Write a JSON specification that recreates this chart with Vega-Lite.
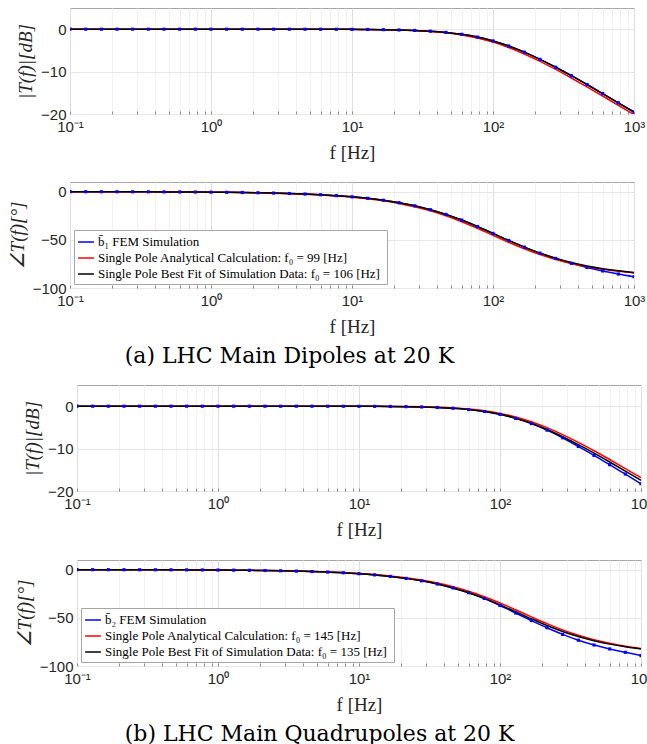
{
"$schema": "https://vega.github.io/schema/vega-lite/v6.json",
"background": "white",
"padding": {"left": 7, "top": 7, "right": 0, "bottom": 0},
"config": {
  "view": {"stroke": "#a6a6a6", "strokeWidth": 1},
  "axis": {"labelFont": "Liberation Sans", "labelFontSize": 15, "labelColor": "#262626", "titleFont": "Liberation Serif", "titleFontWeight": "normal", "titleColor": "#262626", "domain": false, "ticks": false, "gridColor": "#e6e6e6", "gridWidth": 1, "labelPadding": 4},
  "axisY": {"titleFontSize": 19, "titleFontStyle": "italic", "titlePadding": 5},
  "axisX": {"titleFontSize": 19, "titlePadding": 9, "labelOverlap": false, "labelFlush": false, "labelPadding": 8, "ticks": true, "tickSize": -3, "tickColor": "#8c8c8c"},
  "legend": {"title": null, "orient": "bottom-left", "offset": 4, "symbolType": "stroke", "symbolSize": 250, "symbolStrokeWidth": 1.5, "labelFont": "Liberation Serif", "labelFontSize": 13, "labelColor": "#000000", "labelLimit": 600, "labelOffset": 3, "rowPadding": -1, "padding": 3, "strokeColor": "#a6a6a6", "fillColor": "#ffffff"},
  "title": {"font": "DejaVu Serif", "fontSize": 22, "fontWeight": "normal", "color": "#000000", "orient": "bottom", "anchor": "start", "frame": "bounds", "offset": 9}
},
"data": {"values": [
{"g":"a","s":"FEM","f":0.1,"m":0,"p":-0.05},{"g":"a","s":"FEM","f":0.1292,"m":0,"p":-0.07},{"g":"a","s":"FEM","f":0.1668,"m":0,"p":-0.09},{"g":"a","s":"FEM","f":0.2154,"m":0,"p":-0.12},{"g":"a","s":"FEM","f":0.2783,"m":0,"p":-0.15},{"g":"a","s":"FEM","f":0.3594,"m":0,"p":-0.19},{"g":"a","s":"FEM","f":0.4642,"m":0,"p":-0.25},{"g":"a","s":"FEM","f":0.5995,"m":0,"p":-0.32},{"g":"a","s":"FEM","f":0.7743,"m":0,"p":-0.42},{"g":"a","s":"FEM","f":1,"m":-0.0004,"p":-0.54},{"g":"a","s":"FEM","f":1.2915,"m":-0.0006,"p":-0.7},{"g":"a","s":"FEM","f":1.6681,"m":-0.0011,"p":-0.9},{"g":"a","s":"FEM","f":2.1544,"m":-0.0018,"p":-1.16},{"g":"a","s":"FEM","f":2.7826,"m":-0.003,"p":-1.5},{"g":"a","s":"FEM","f":3.5938,"m":-0.005,"p":-1.94},{"g":"a","s":"FEM","f":4.6416,"m":-0.0083,"p":-2.51},{"g":"a","s":"FEM","f":5.9948,"m":-0.0139,"p":-3.24},{"g":"a","s":"FEM","f":7.7426,"m":-0.0231,"p":-4.18},{"g":"a","s":"FEM","f":10,"m":-0.0385,"p":-5.39},{"g":"a","s":"FEM","f":12.915,"m":-0.064,"p":-6.95},{"g":"a","s":"FEM","f":16.681,"m":-0.1062,"p":-8.94},{"g":"a","s":"FEM","f":21.544,"m":-0.1758,"p":-11.49},{"g":"a","s":"FEM","f":27.826,"m":-0.2894,"p":-14.71},{"g":"a","s":"FEM","f":35.938,"m":-0.4725,"p":-18.73},{"g":"a","s":"FEM","f":46.416,"m":-0.7618,"p":-23.65},{"g":"a","s":"FEM","f":59.948,"m":-1.205,"p":-29.49},{"g":"a","s":"FEM","f":77.426,"m":-1.857,"p":-36.15},{"g":"a","s":"FEM","f":100,"m":-2.765,"p":-43.33},{"g":"a","s":"FEM","f":129.15,"m":-3.952,"p":-50.62},{"g":"a","s":"FEM","f":166.81,"m":-5.411,"p":-57.57},{"g":"a","s":"FEM","f":215.44,"m":-7.102,"p":-63.8},{"g":"a","s":"FEM","f":278.26,"m":-8.971,"p":-69.3},{"g":"a","s":"FEM","f":359.38,"m":-10.967,"p":-74.4},{"g":"a","s":"FEM","f":464.16,"m":-13.048,"p":-78.7},{"g":"a","s":"FEM","f":599.48,"m":-15.183,"p":-82.3},{"g":"a","s":"FEM","f":774.26,"m":-17.352,"p":-85.5},{"g":"a","s":"FEM","f":1000,"m":-19.542,"p":-88.3},
{"g":"a","s":"Analytical","f":0.1,"m":0,"p":-0.06},{"g":"a","s":"Analytical","f":0.1292,"m":0,"p":-0.07},{"g":"a","s":"Analytical","f":0.1668,"m":0,"p":-0.1},{"g":"a","s":"Analytical","f":0.2154,"m":0,"p":-0.12},{"g":"a","s":"Analytical","f":0.2783,"m":0,"p":-0.16},{"g":"a","s":"Analytical","f":0.3594,"m":0,"p":-0.21},{"g":"a","s":"Analytical","f":0.4642,"m":0,"p":-0.27},{"g":"a","s":"Analytical","f":0.5995,"m":0,"p":-0.35},{"g":"a","s":"Analytical","f":0.7743,"m":0,"p":-0.45},{"g":"a","s":"Analytical","f":1,"m":-0.0004,"p":-0.58},{"g":"a","s":"Analytical","f":1.2915,"m":-0.0007,"p":-0.75},{"g":"a","s":"Analytical","f":1.6681,"m":-0.0012,"p":-0.97},{"g":"a","s":"Analytical","f":2.1544,"m":-0.002,"p":-1.25},{"g":"a","s":"Analytical","f":2.7826,"m":-0.0034,"p":-1.61},{"g":"a","s":"Analytical","f":3.5938,"m":-0.0057,"p":-2.08},{"g":"a","s":"Analytical","f":4.6416,"m":-0.0095,"p":-2.68},{"g":"a","s":"Analytical","f":5.9948,"m":-0.0159,"p":-3.47},{"g":"a","s":"Analytical","f":7.7426,"m":-0.0265,"p":-4.47},{"g":"a","s":"Analytical","f":10,"m":-0.0441,"p":-5.77},{"g":"a","s":"Analytical","f":12.915,"m":-0.0733,"p":-7.43},{"g":"a","s":"Analytical","f":16.681,"m":-0.1216,"p":-9.56},{"g":"a","s":"Analytical","f":21.544,"m":-0.2009,"p":-12.28},{"g":"a","s":"Analytical","f":27.826,"m":-0.3302,"p":-15.7},{"g":"a","s":"Analytical","f":35.938,"m":-0.5376,"p":-19.95},{"g":"a","s":"Analytical","f":46.416,"m":-0.863,"p":-25.12},{"g":"a","s":"Analytical","f":59.948,"m":-1.357,"p":-31.2},{"g":"a","s":"Analytical","f":77.426,"m":-2.073,"p":-38.03},{"g":"a","s":"Analytical","f":100,"m":-3.054,"p":-45.29},{"g":"a","s":"Analytical","f":129.15,"m":-4.317,"p":-52.53},{"g":"a","s":"Analytical","f":166.81,"m":-5.842,"p":-59.31},{"g":"a","s":"Analytical","f":215.44,"m":-7.586,"p":-65.32},{"g":"a","s":"Analytical","f":278.26,"m":-9.494,"p":-70.42},{"g":"a","s":"Analytical","f":359.38,"m":-11.516,"p":-74.6},{"g":"a","s":"Analytical","f":464.16,"m":-13.614,"p":-77.96},{"g":"a","s":"Analytical","f":599.48,"m":-15.76,"p":-80.62},{"g":"a","s":"Analytical","f":774.26,"m":-17.936,"p":-82.71},{"g":"a","s":"Analytical","f":1000,"m":-20.13,"p":-84.35},
{"g":"a","s":"Fit","f":0.1,"m":0,"p":-0.05},{"g":"a","s":"Fit","f":0.1292,"m":0,"p":-0.07},{"g":"a","s":"Fit","f":0.1668,"m":0,"p":-0.09},{"g":"a","s":"Fit","f":0.2154,"m":0,"p":-0.12},{"g":"a","s":"Fit","f":0.2783,"m":0,"p":-0.15},{"g":"a","s":"Fit","f":0.3594,"m":0,"p":-0.19},{"g":"a","s":"Fit","f":0.4642,"m":0,"p":-0.25},{"g":"a","s":"Fit","f":0.5995,"m":0,"p":-0.32},{"g":"a","s":"Fit","f":0.7743,"m":0,"p":-0.42},{"g":"a","s":"Fit","f":1,"m":-0.0004,"p":-0.54},{"g":"a","s":"Fit","f":1.2915,"m":-0.0006,"p":-0.7},{"g":"a","s":"Fit","f":1.6681,"m":-0.0011,"p":-0.9},{"g":"a","s":"Fit","f":2.1544,"m":-0.0018,"p":-1.16},{"g":"a","s":"Fit","f":2.7826,"m":-0.003,"p":-1.5},{"g":"a","s":"Fit","f":3.5938,"m":-0.005,"p":-1.94},{"g":"a","s":"Fit","f":4.6416,"m":-0.0083,"p":-2.51},{"g":"a","s":"Fit","f":5.9948,"m":-0.0139,"p":-3.24},{"g":"a","s":"Fit","f":7.7426,"m":-0.0231,"p":-4.18},{"g":"a","s":"Fit","f":10,"m":-0.0385,"p":-5.39},{"g":"a","s":"Fit","f":12.915,"m":-0.064,"p":-6.95},{"g":"a","s":"Fit","f":16.681,"m":-0.1062,"p":-8.94},{"g":"a","s":"Fit","f":21.544,"m":-0.1758,"p":-11.49},{"g":"a","s":"Fit","f":27.826,"m":-0.2894,"p":-14.71},{"g":"a","s":"Fit","f":35.938,"m":-0.4725,"p":-18.73},{"g":"a","s":"Fit","f":46.416,"m":-0.7618,"p":-23.65},{"g":"a","s":"Fit","f":59.948,"m":-1.205,"p":-29.49},{"g":"a","s":"Fit","f":77.426,"m":-1.857,"p":-36.15},{"g":"a","s":"Fit","f":100,"m":-2.765,"p":-43.33},{"g":"a","s":"Fit","f":129.15,"m":-3.952,"p":-50.62},{"g":"a","s":"Fit","f":166.81,"m":-5.411,"p":-57.57},{"g":"a","s":"Fit","f":215.44,"m":-7.102,"p":-63.8},{"g":"a","s":"Fit","f":278.26,"m":-8.971,"p":-69.15},{"g":"a","s":"Fit","f":359.38,"m":-10.967,"p":-73.57},{"g":"a","s":"Fit","f":464.16,"m":-13.048,"p":-77.14},{"g":"a","s":"Fit","f":599.48,"m":-15.183,"p":-79.97},{"g":"a","s":"Fit","f":774.26,"m":-17.352,"p":-82.2},{"g":"a","s":"Fit","f":1000,"m":-19.542,"p":-83.95},
{"g":"b","s":"FEM","f":0.1,"m":0,"p":-0.04},{"g":"b","s":"FEM","f":0.1292,"m":0,"p":-0.05},{"g":"b","s":"FEM","f":0.1668,"m":0,"p":-0.07},{"g":"b","s":"FEM","f":0.2154,"m":0,"p":-0.09},{"g":"b","s":"FEM","f":0.2783,"m":0,"p":-0.12},{"g":"b","s":"FEM","f":0.3594,"m":0,"p":-0.15},{"g":"b","s":"FEM","f":0.4642,"m":0,"p":-0.2},{"g":"b","s":"FEM","f":0.5995,"m":0,"p":-0.25},{"g":"b","s":"FEM","f":0.7743,"m":0,"p":-0.33},{"g":"b","s":"FEM","f":1,"m":-0.0002,"p":-0.42},{"g":"b","s":"FEM","f":1.2915,"m":-0.0004,"p":-0.55},{"g":"b","s":"FEM","f":1.6681,"m":-0.0007,"p":-0.71},{"g":"b","s":"FEM","f":2.1544,"m":-0.0011,"p":-0.91},{"g":"b","s":"FEM","f":2.7826,"m":-0.0018,"p":-1.18},{"g":"b","s":"FEM","f":3.5938,"m":-0.0031,"p":-1.53},{"g":"b","s":"FEM","f":4.6416,"m":-0.0051,"p":-1.97},{"g":"b","s":"FEM","f":5.9948,"m":-0.0086,"p":-2.54},{"g":"b","s":"FEM","f":7.7426,"m":-0.0143,"p":-3.28},{"g":"b","s":"FEM","f":10,"m":-0.0238,"p":-4.24},{"g":"b","s":"FEM","f":12.915,"m":-0.0396,"p":-5.47},{"g":"b","s":"FEM","f":16.681,"m":-0.0658,"p":-7.04},{"g":"b","s":"FEM","f":21.544,"m":-0.1092,"p":-9.07},{"g":"b","s":"FEM","f":27.826,"m":-0.1807,"p":-11.65},{"g":"b","s":"FEM","f":35.938,"m":-0.2974,"p":-14.91},{"g":"b","s":"FEM","f":46.416,"m":-0.4852,"p":-18.97},{"g":"b","s":"FEM","f":59.948,"m":-0.7816,"p":-23.94},{"g":"b","s":"FEM","f":77.426,"m":-1.24,"p":-29.9},{"g":"b","s":"FEM","f":100,"m":-1.92,"p":-37.2},{"g":"b","s":"FEM","f":129.15,"m":-2.87,"p":-45},{"g":"b","s":"FEM","f":166.81,"m":-4.1,"p":-52.8},{"g":"b","s":"FEM","f":215.44,"m":-5.65,"p":-60.3},{"g":"b","s":"FEM","f":278.26,"m":-7.45,"p":-67.2},{"g":"b","s":"FEM","f":359.38,"m":-9.5,"p":-73.2},{"g":"b","s":"FEM","f":464.16,"m":-11.6,"p":-78.2},{"g":"b","s":"FEM","f":599.48,"m":-13.8,"p":-82.3},{"g":"b","s":"FEM","f":774.26,"m":-16,"p":-85.8},{"g":"b","s":"FEM","f":1000,"m":-18.3,"p":-89.2},
{"g":"b","s":"Analytical","f":0.1,"m":0,"p":-0.04},{"g":"b","s":"Analytical","f":0.1292,"m":0,"p":-0.05},{"g":"b","s":"Analytical","f":0.1668,"m":0,"p":-0.07},{"g":"b","s":"Analytical","f":0.2154,"m":0,"p":-0.09},{"g":"b","s":"Analytical","f":0.2783,"m":0,"p":-0.11},{"g":"b","s":"Analytical","f":0.3594,"m":0,"p":-0.14},{"g":"b","s":"Analytical","f":0.4642,"m":0,"p":-0.18},{"g":"b","s":"Analytical","f":0.5995,"m":0,"p":-0.24},{"g":"b","s":"Analytical","f":0.7743,"m":0,"p":-0.31},{"g":"b","s":"Analytical","f":1,"m":-0.0002,"p":-0.4},{"g":"b","s":"Analytical","f":1.2915,"m":-0.0003,"p":-0.51},{"g":"b","s":"Analytical","f":1.6681,"m":-0.0006,"p":-0.66},{"g":"b","s":"Analytical","f":2.1544,"m":-0.001,"p":-0.85},{"g":"b","s":"Analytical","f":2.7826,"m":-0.0016,"p":-1.1},{"g":"b","s":"Analytical","f":3.5938,"m":-0.0027,"p":-1.42},{"g":"b","s":"Analytical","f":4.6416,"m":-0.0044,"p":-1.83},{"g":"b","s":"Analytical","f":5.9948,"m":-0.0074,"p":-2.37},{"g":"b","s":"Analytical","f":7.7426,"m":-0.0124,"p":-3.06},{"g":"b","s":"Analytical","f":10,"m":-0.0206,"p":-3.95},{"g":"b","s":"Analytical","f":12.915,"m":-0.0343,"p":-5.09},{"g":"b","s":"Analytical","f":16.681,"m":-0.0571,"p":-6.56},{"g":"b","s":"Analytical","f":21.544,"m":-0.0948,"p":-8.45},{"g":"b","s":"Analytical","f":27.826,"m":-0.1571,"p":-10.86},{"g":"b","s":"Analytical","f":35.938,"m":-0.2589,"p":-13.92},{"g":"b","s":"Analytical","f":46.416,"m":-0.4237,"p":-17.75},{"g":"b","s":"Analytical","f":59.948,"m":-0.6853,"p":-22.46},{"g":"b","s":"Analytical","f":77.426,"m":-1.0895,"p":-28.1},{"g":"b","s":"Analytical","f":100,"m":-1.69,"p":-34.59},{"g":"b","s":"Analytical","f":129.15,"m":-2.537,"p":-41.69},{"g":"b","s":"Analytical","f":166.81,"m":-3.661,"p":-49},{"g":"b","s":"Analytical","f":215.44,"m":-5.062,"p":-56.06},{"g":"b","s":"Analytical","f":278.26,"m":-6.705,"p":-62.48},{"g":"b","s":"Analytical","f":359.38,"m":-8.539,"p":-68.03},{"g":"b","s":"Analytical","f":464.16,"m":-10.51,"p":-72.65},{"g":"b","s":"Analytical","f":599.48,"m":-12.575,"p":-76.4},{"g":"b","s":"Analytical","f":774.26,"m":-14.7,"p":-79.39},{"g":"b","s":"Analytical","f":1000,"m":-16.863,"p":-81.75},
{"g":"b","s":"Fit","f":0.1,"m":0,"p":-0.04},{"g":"b","s":"Fit","f":0.1292,"m":0,"p":-0.05},{"g":"b","s":"Fit","f":0.1668,"m":0,"p":-0.07},{"g":"b","s":"Fit","f":0.2154,"m":0,"p":-0.09},{"g":"b","s":"Fit","f":0.2783,"m":0,"p":-0.12},{"g":"b","s":"Fit","f":0.3594,"m":0,"p":-0.15},{"g":"b","s":"Fit","f":0.4642,"m":0,"p":-0.2},{"g":"b","s":"Fit","f":0.5995,"m":0,"p":-0.25},{"g":"b","s":"Fit","f":0.7743,"m":0,"p":-0.33},{"g":"b","s":"Fit","f":1,"m":-0.0002,"p":-0.42},{"g":"b","s":"Fit","f":1.2915,"m":-0.0004,"p":-0.55},{"g":"b","s":"Fit","f":1.6681,"m":-0.0007,"p":-0.71},{"g":"b","s":"Fit","f":2.1544,"m":-0.0011,"p":-0.91},{"g":"b","s":"Fit","f":2.7826,"m":-0.0018,"p":-1.18},{"g":"b","s":"Fit","f":3.5938,"m":-0.0031,"p":-1.53},{"g":"b","s":"Fit","f":4.6416,"m":-0.0051,"p":-1.97},{"g":"b","s":"Fit","f":5.9948,"m":-0.0086,"p":-2.54},{"g":"b","s":"Fit","f":7.7426,"m":-0.0143,"p":-3.28},{"g":"b","s":"Fit","f":10,"m":-0.0238,"p":-4.24},{"g":"b","s":"Fit","f":12.915,"m":-0.0396,"p":-5.47},{"g":"b","s":"Fit","f":16.681,"m":-0.0658,"p":-7.04},{"g":"b","s":"Fit","f":21.544,"m":-0.1092,"p":-9.07},{"g":"b","s":"Fit","f":27.826,"m":-0.1807,"p":-11.65},{"g":"b","s":"Fit","f":35.938,"m":-0.2974,"p":-14.91},{"g":"b","s":"Fit","f":46.416,"m":-0.4852,"p":-18.97},{"g":"b","s":"Fit","f":59.948,"m":-0.7816,"p":-23.94},{"g":"b","s":"Fit","f":77.426,"m":-1.235,"p":-29.84},{"g":"b","s":"Fit","f":100,"m":-1.9,"p":-36.53},{"g":"b","s":"Fit","f":129.15,"m":-2.822,"p":-43.73},{"g":"b","s":"Fit","f":166.81,"m":-4.026,"p":-51.02},{"g":"b","s":"Fit","f":215.44,"m":-5.498,"p":-57.93},{"g":"b","s":"Fit","f":278.26,"m":-7.2,"p":-64.12},{"g":"b","s":"Fit","f":359.38,"m":-9.078,"p":-69.41},{"g":"b","s":"Fit","f":464.16,"m":-11.079,"p":-73.78},{"g":"b","s":"Fit","f":599.48,"m":-13.164,"p":-77.31},{"g":"b","s":"Fit","f":774.26,"m":-15.301,"p":-80.11},{"g":"b","s":"Fit","f":1000,"m":-17.472,"p":-82.31}
]},
"spacing": 17,
"resolve": {"scale": {"color": "independent"}, "legend": {"color": "independent"}},
"vconcat": [
 {
  "title": {"text": "(a) LHC Main Dipoles at 20 K", "dx": 117},
  "spacing": 18,
  "resolve": {"scale": {"color": "independent"}, "legend": {"color": "independent"}},
  "vconcat": [
   {
    "width": 564, "height": 106,
    "transform": [{"filter": "datum.g == 'a'"}],
    "encoding": {
      "x": {"field": "f", "type": "quantitative", "scale": {"type": "log", "domain": [0.1, 1000], "nice": false},
            "axis": {"title": "f [Hz]", "values": [0.1,0.2,0.3,0.4,0.5,0.6,0.7,0.8,0.9,1,2,3,4,5,6,7,8,9,10,20,30,40,50,60,70,80,90,100,200,300,400,500,600,700,800,900,1000],
                     "labelExpr": "datum.value == 0.1 ? '10⁻¹' : datum.value == 1 ? '10⁰' : datum.value == 10 ? '10¹' : datum.value == 100 ? '10²' : datum.value == 1000 ? '10³' : ''",
                     "gridColor": {"condition": {"test": "indexof([0.1,1,10,100,1000], datum.value) >= 0", "value": "#dedede"}, "value": "#f1f1f1"}}},
      "y": {"field": "m", "type": "quantitative", "scale": {"domain": [-20, 5], "nice": false, "zero": false}, "axis": {"values": [-20, -10, 0], "title": "|T(f)|[dB]"}}
    },
    "layer": [
      {"mark": {"type": "line", "strokeWidth": 1.5, "interpolate": "monotone", "clip": true},
       "encoding": {"color": {"field": "s", "type": "nominal", "scale": {"domain": ["FEM", "Analytical", "Fit"], "range": ["#0000ff", "#ff0000", "#000000"]}, "legend": null}}},
      {"transform": [{"filter": "datum.s == 'FEM'"}], "mark": {"type": "square", "size": 10, "color": "#0000ff", "opacity": 1, "clip": true}}
    ]
   },
   {
    "width": 564, "height": 106,
    "transform": [{"filter": "datum.g == 'a'"}],
    "encoding": {
      "x": {"field": "f", "type": "quantitative", "scale": {"type": "log", "domain": [0.1, 1000], "nice": false},
            "axis": {"title": "f [Hz]", "values": [0.1,0.2,0.3,0.4,0.5,0.6,0.7,0.8,0.9,1,2,3,4,5,6,7,8,9,10,20,30,40,50,60,70,80,90,100,200,300,400,500,600,700,800,900,1000],
                     "labelExpr": "datum.value == 0.1 ? '10⁻¹' : datum.value == 1 ? '10⁰' : datum.value == 10 ? '10¹' : datum.value == 100 ? '10²' : datum.value == 1000 ? '10³' : ''",
                     "gridColor": {"condition": {"test": "indexof([0.1,1,10,100,1000], datum.value) >= 0", "value": "#dedede"}, "value": "#f1f1f1"}}},
      "y": {"field": "p", "type": "quantitative", "scale": {"domain": [-100, 10], "nice": false, "zero": false}, "axis": {"values": [-100, -50, 0], "title": "∠T(f)[°]"}}
    },
    "layer": [
      {"mark": {"type": "line", "strokeWidth": 1.5, "interpolate": "monotone", "clip": true},
       "encoding": {"color": {"field": "s", "type": "nominal", "scale": {"domain": ["FEM", "Analytical", "Fit"], "range": ["#0000ff", "#ff0000", "#000000"]},
         "legend": {"labelExpr": "datum.label == 'FEM' ? 'b̄₁ FEM Simulation' : datum.label == 'Analytical' ? 'Single Pole Analytical Calculation:  f₀ = 99 [Hz]' : 'Single Pole Best Fit of Simulation Data:  f₀ = 106 [Hz]'"}}}},
      {"transform": [{"filter": "datum.s == 'FEM'"}], "mark": {"type": "square", "size": 10, "color": "#0000ff", "opacity": 1, "clip": true}}
    ]
   }
  ]
 },
 {
  "title": {"text": "(b) LHC Main Quadrupoles at 20 K", "dx": 110},
  "spacing": -57,
  "resolve": {"scale": {"color": "independent"}, "legend": {"color": "independent"}},
  "hconcat": [
   {"data": {"values": [{"v": 1}]}, "width": 1, "height": 10, "mark": {"type": "text"}, "encoding": {"text": {"value": ""}}, "view": {"stroke": null, "fill": "#ffffff"}},
   {
    "spacing": 19,
    "resolve": {"scale": {"color": "independent"}, "legend": {"color": "independent"}},
    "vconcat": [
     {
      "width": 564, "height": 106,
      "transform": [{"filter": "datum.g == 'b'"}],
      "encoding": {
        "x": {"field": "f", "type": "quantitative", "scale": {"type": "log", "domain": [0.1, 1000], "nice": false},
              "axis": {"title": "f [Hz]", "values": [0.1,0.2,0.3,0.4,0.5,0.6,0.7,0.8,0.9,1,2,3,4,5,6,7,8,9,10,20,30,40,50,60,70,80,90,100,200,300,400,500,600,700,800,900,1000],
                       "labelExpr": "datum.value == 0.1 ? '10⁻¹' : datum.value == 1 ? '10⁰' : datum.value == 10 ? '10¹' : datum.value == 100 ? '10²' : datum.value == 1000 ? '10³' : ''",
                       "gridColor": {"condition": {"test": "indexof([0.1,1,10,100,1000], datum.value) >= 0", "value": "#dedede"}, "value": "#f1f1f1"}}},
        "y": {"field": "m", "type": "quantitative", "scale": {"domain": [-20, 5], "nice": false, "zero": false}, "axis": {"values": [-20, -10, 0], "title": "|T(f)|[dB]"}}
      },
      "layer": [
        {"mark": {"type": "line", "strokeWidth": 1.5, "interpolate": "monotone", "clip": true},
         "encoding": {"color": {"field": "s", "type": "nominal", "scale": {"domain": ["FEM", "Analytical", "Fit"], "range": ["#0000ff", "#ff0000", "#000000"]}, "legend": null}}},
        {"transform": [{"filter": "datum.s == 'FEM'"}], "mark": {"type": "square", "size": 10, "color": "#0000ff", "opacity": 1, "clip": true}}
      ]
     },
     {
      "width": 564, "height": 106,
      "transform": [{"filter": "datum.g == 'b'"}],
      "encoding": {
        "x": {"field": "f", "type": "quantitative", "scale": {"type": "log", "domain": [0.1, 1000], "nice": false},
              "axis": {"title": "f [Hz]", "values": [0.1,0.2,0.3,0.4,0.5,0.6,0.7,0.8,0.9,1,2,3,4,5,6,7,8,9,10,20,30,40,50,60,70,80,90,100,200,300,400,500,600,700,800,900,1000],
                       "labelExpr": "datum.value == 0.1 ? '10⁻¹' : datum.value == 1 ? '10⁰' : datum.value == 10 ? '10¹' : datum.value == 100 ? '10²' : datum.value == 1000 ? '10³' : ''",
                       "gridColor": {"condition": {"test": "indexof([0.1,1,10,100,1000], datum.value) >= 0", "value": "#dedede"}, "value": "#f1f1f1"}}},
        "y": {"field": "p", "type": "quantitative", "scale": {"domain": [-100, 10], "nice": false, "zero": false}, "axis": {"values": [-100, -50, 0], "title": "∠T(f)[°]"}}
      },
      "layer": [
        {"mark": {"type": "line", "strokeWidth": 1.5, "interpolate": "monotone", "clip": true},
         "encoding": {"color": {"field": "s", "type": "nominal", "scale": {"domain": ["FEM", "Analytical", "Fit"], "range": ["#0000ff", "#ff0000", "#000000"]},
           "legend": {"labelExpr": "datum.label == 'FEM' ? 'b̄₂ FEM Simulation' : datum.label == 'Analytical' ? 'Single Pole Analytical Calculation:  f₀ = 145 [Hz]' : 'Single Pole Best Fit of Simulation Data:  f₀ = 135 [Hz]'"}}}},
        {"transform": [{"filter": "datum.s == 'FEM'"}], "mark": {"type": "square", "size": 10, "color": "#0000ff", "opacity": 1, "clip": true}}
      ]
     }
    ]
   }
  ]
 }
]
}
